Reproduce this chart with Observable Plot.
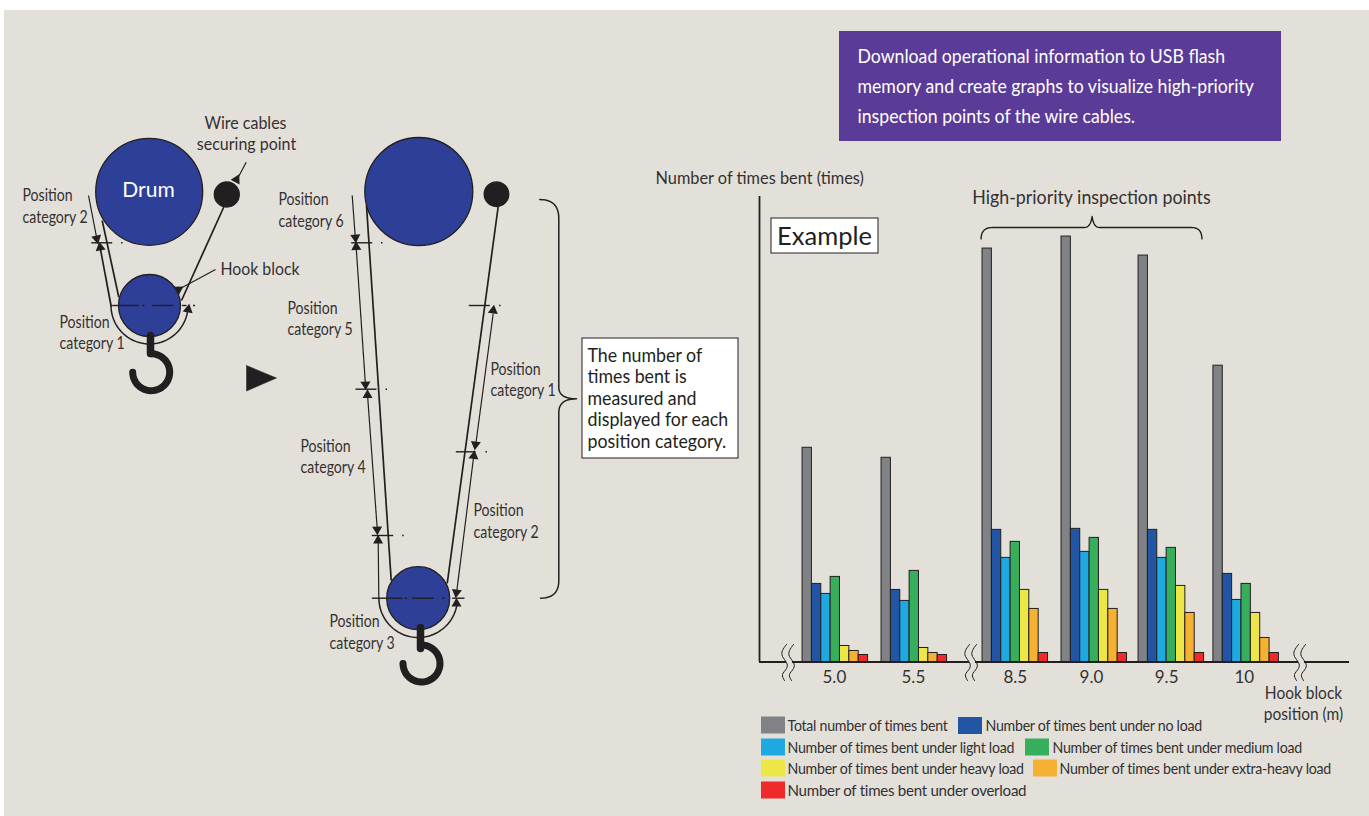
<!DOCTYPE html>
<html><head><meta charset="utf-8">
<script src="https://cdn.jsdelivr.net/npm/d3@7"></script>
<script src="https://cdn.jsdelivr.net/npm/@observablehq/plot@0.6"></script>
<style>
html,body{margin:0;padding:0;background:#fff;overflow:hidden}
#page{position:absolute;left:4px;top:10px;width:1365px;height:806px;background:#e3e0d9}
#stage{position:absolute;left:0;top:0;width:1369px;height:816px}
#stage>svg,#stage>figure{position:absolute;left:0;top:0;margin:0;background:transparent;overflow:visible}
text{font-family:Lato,sans-serif}
.sq886 text,.sq944 text{letter-spacing:-.3px}
</style></head><body><div id="page"></div><div id="stage"></div>
<script>
// ---------- chart data ----------
const hookPositions = ["5.0","5.5","8.5","9.0","9.5","10"];
const total      = [214,204,413,425,406,296];
const noLoad     = [78,72,132,133,132,88];
const lightLoad  = [68,61,104,110,104,62];
const mediumLoad = [85,91,120,124,114,78];
const heavyLoad  = [16,14,72,72,76,49];
const extraHeavy = [11,9,53,53,49,24];
const overload   = [7,7,9,9,9,9];
const seriesNames = ["Total number of times bent","Number of times bent under no load","Number of times bent under light load","Number of times bent under medium load","Number of times bent under heavy load","Number of times bent under extra-heavy load","Number of times bent under overload"];
const seriesValues = [total,noLoad,lightLoad,mediumLoad,heavyLoad,extraHeavy,overload];
const seriesColors = ["#808285","#2255a4","#1fa9e1","#37ae5c","#ece747","#f5b132","#ee2a2b"];
const groupStart = [0,8.44,19.23,27.67,35.9,43.9];   // bar-slot offset of each group
const labelOffset = [3.4,3.4,3.5,3.2,3.0,3.3];       // tick position within each group

const bars = hookPositions.flatMap((p,g)=>seriesNames.map((s,k)=>({
  pos:p, series:s, value:seriesValues[k][g], x1:groupStart[g]+k, x2:groupStart[g]+k+1})));
const centres = groupStart.map((s,i)=>s+labelOffset[i]);
const labelFor = new Map(centres.map((c,i)=>[c,hookPositions[i]]));
const ink="#231f20", txt="#333132";

const chart = Plot.plot({
  width:1369,height:816,marginLeft:759,marginRight:20,marginTop:196,marginBottom:154.5,
  style:{background:"transparent"},
  x:{domain:[-4.6,58.44]},
  y:{domain:[0,465]},
  color:{domain:seriesNames,range:seriesColors},
  marks:[
    Plot.rectY(bars,{x1:"x1",x2:"x2",y1:0,y2:"value",fill:"series",stroke:ink,strokeWidth:1}),
    Plot.ruleY([0],{stroke:ink,strokeWidth:1.8}),
    Plot.ruleX([-4.6],{stroke:ink,strokeWidth:1.8}),
    Plot.axisX({ticks:centres,tickFormat:d=>labelFor.get(d),tickSize:0,tickPadding:9,fontSize:17,color:txt,label:null}),
    Plot.axisY({ticks:[],label:null,tickSize:0})
  ]
});

// ---------- diagram geometry helpers ----------
const arc=(cx,cy,r,a0,a1,n=40)=>d3.range(n+1).map(i=>{const a=(a0+(a1-a0)*i/n)*Math.PI/180;return {x:cx+r*Math.cos(a),y:cy+r*Math.sin(a)}});
const bez=(p0,c,p1,n=12)=>d3.range(n+1).map(i=>{const t=i/n,u=1-t;return {x:u*u*p0[0]+2*u*t*c[0]+t*t*p1[0],y:u*u*p0[1]+2*u*t*c[1]+t*t*p1[1]}});
const poly=(...ps)=>ps.map(p=>({x:p[0],y:p[1]}));
const P=(o)=>({x:"x",y:"y",...o});

// ---------- diagram tables ----------
const circles=[
  {x:148.7,y:191.3,r:53.5,f:"#2e3f97"},{x:226.3,y:194,r:12.5,f:ink},{x:149,y:305,r:31,f:"#2e3f97"},
  {x:418.3,y:191,r:54,f:"#2e3f97"},{x:496,y:193.7,r:12.3,f:ink},{x:417.7,y:597.7,r:31.5,f:"#2e3f97"}];
const ropes=[ // x1,y1,x2,y2
  [101.7,220,118.3,296.7],[100,249,110.7,306],[224,205,181,300],
  [366,205,390.7,580],[497.7,206,446.7,583]];
const dims=[
  [88,195,96.7,240],[245.7,161.7,236,180],[215,269,178,289],
  [351.7,195,355,240],[355.7,247,365,385],[367,394,376.7,528],[377.7,539,378.3,597.7],
  [492.7,313,475,446],[473.3,455,456,593]];
const ticks=[
  [90.7,242.3,111.7,242.3],[120.5,242.3,122,242.3],
  [111.7,305,138.3,305],[141.5,305,144,305],[151.7,305,173,305],[181.5,305,186,305],[192.5,305,194.5,305],
  [350.7,242.3,371.7,242.3],[380.5,242.3,382,242.3],
  [355,388.7,376,388.7],[385,388.7,386.5,388.7],
  [371.3,535,392.7,535],[401.7,535,403.2,535],
  [371.3,597.7,401.7,597.7],[404,597.7,406.5,597.7],[411.7,597.7,433.3,597.7],[441.7,597.7,444,597.7],[451.7,597.7,464,597.7],
  [468.3,305,489.3,305],[498.6,305,500.1,305],
  [455.3,451.3,475,451.3],[485,451.3,486.5,451.3]];
const tris=[ // x,y,rotation
  [96.3,238,168],[99.7,247,-10],[187.7,309,10],[236,179,28],[178,289,-62],
  [355,237,176],[355.7,246.5,-3],[365,384,178],[367,394.5,0],[376.7,529,178],[377.6,540,0],
  [492.7,310,8],[475,444,188],[473.3,455.5,8],[456,592,188],[456,603,0]];
const waves=[[783,644],[790,644],[966,644],[973,644],[1295,644],[1302,644]];
const waveShape=[[3,0],[-1,6],[-1,12],[3,18],[3,24],[-1,30],[1,36]];
const legendRows=[
  {k:0,sx:761,tx:787,y:725},{k:1,sx:958,tx:985,y:725.5},
  {k:2,sx:761,tx:787,y:747},{k:3,sx:1025,tx:1052,y:747},
  {k:4,sx:761,tx:787,y:768},{k:5,sx:1033,tx:1059,y:768},
  {k:6,sx:761,tx:787,y:790}].map(d=>({...d,name:seriesNames[d.k],color:seriesColors[d.k]}));
const posLabels=[
  [22,195,"Position"],[22,217,"category 2"],[59,322,"Position"],[59,343,"category 1"],
  [278,199,"Position"],[278,221,"category 6"],[287,308,"Position"],[287,329,"category 5"],
  [490,369,"Position"],[490,390,"category 1"],[300,446,"Position"],[300,467,"category 4"],
  [473,510,"Position"],[473,532,"category 2"],[329,621,"Position"],[329,643,"category 3"]].map(([x,y,t])=>({x,y,t}));
const topLabels=[[245,123,"Wire cables"],[246,144,"securing point"]].map(([x,y,t])=>({x,y,t}));
const axisNote=[[1303,693,"Hook block"],[1303,714,"position (m)"]].map(([x,y,t])=>({x,y,t}));
const boxLines=["The number of","times bent is","measured and","displayed for each","position category."].map((t,i)=>({x:587,y:355.5+i*21.5,t}));
const purpleLines=["Download operational information to USB flash","memory and create graphs to visualize high-priority","inspection points of the wire cables."].map((t,i)=>({x:857,y:57+i*30,t}));

const text=(rows,o)=>Plot.text(rows,{x:"x",y:"y",text:"t",textAnchor:"start",lineAnchor:"middle",fill:txt,fontSize:17,...o});
const link=(rows,w,c=ink)=>Plot.link(rows,{x1:d=>d[0],y1:d=>d[1],x2:d=>d[2],y2:d=>d[3],stroke:c,strokeWidth:w});
const bigBrace=[...bez([539.3,199],[558.3,199],[558.3,218]),...bez([558.3,386.7],[558.3,398.3],[576,398.3]),...bez([576,398.3],[558.3,398.3],[558.3,412]),...bez([558.3,580],[558.3,597.7],[540,597.7])];
const smallBrace=[...bez([980.6,238.4],[980.6,227],[992,227]),...bez([1084,227],[1090,227],[1091.6,216]),...bez([1091.6,216],[1093,227],[1099,227]),...bez([1191,227],[1201.4,227],[1201.4,238.4])];
const legendText=(rows,cls)=>Plot.text(rows,{x:"tx",y:"y",text:"name",textAnchor:"start",lineAnchor:"middle",fill:txt,fontSize:16,className:cls});

const diagram = Plot.plot({
  width:1369,height:816,margin:0,
  style:{background:"transparent"},
  x:{domain:[0,1369],range:[0,1369],axis:null},
  y:{domain:[0,816],range:[0,816],axis:null},
  marks:[
    Plot.rect([{a:839,b:1281,c:31,d:141}],{x1:"a",x2:"b",y1:"c",y2:"d",fill:"#5a3b97"}),
    Plot.rect([{a:582,b:738,c:338,d:458},{a:771,b:878,c:218,d:253}],{x1:"a",x2:"b",y1:"c",y2:"d",fill:"#fff",stroke:ink,strokeWidth:1}),
    link(ropes,1.7),
    Plot.line(arc(149,305,38.5,180,8),P({stroke:ink,strokeWidth:1.5})),
    Plot.line(arc(417.7,597.7,39.3,180,12),P({stroke:ink,strokeWidth:1.5})),
    ...circles.map(c=>Plot.dot([c],{x:"x",y:"y",r:c.r,fill:c.f,stroke:ink,strokeWidth:1.3})),
    link(dims,1.2),
    link(ticks,1.4),
    Plot.dot(tris,{x:d=>d[0],y:d=>d[1],rotate:d=>d[2],symbol:"triangle2",r:4.8,fill:ink,stroke:"none"}),
    Plot.line(poly([150,335],[150,353]),P({stroke:ink,strokeWidth:7.5})),
    Plot.line(arc(150.7,371.7,18.5,-92,180),P({stroke:ink,strokeWidth:7})),
    Plot.line(poly([420,627],[420,648]),P({stroke:ink,strokeWidth:7.5})),
    Plot.line(arc(421,663,18.5,-92,180),P({stroke:ink,strokeWidth:7})),
    Plot.line(poly([246,365],[246,390.5],[276,377.5],[246,365]),P({fill:ink,stroke:ink,strokeWidth:.5})),
    Plot.line(bigBrace,P({stroke:ink,strokeWidth:1.5})),
    Plot.line(smallBrace,P({stroke:ink,strokeWidth:1.4})),
    Plot.rect([[786,792],[969,975],[1298,1304]],{x1:d=>d[0],x2:d=>d[1],y1:658,y2:665,fill:"#e3e0d9"}),
    ...waves.map(w=>Plot.line(waveShape.map(s=>({x:w[0]+s[0],y:w[1]+s[1]})),P({stroke:ink,strokeWidth:1,curve:"natural"}))),
    text(posLabels,{className:"sq83"}),
    text([{x:220,y:269,t:"Hook block"}],{className:"sq93"}),
    text(topLabels,{textAnchor:"middle",className:"sq94"}),
    text(axisNote,{textAnchor:"middle",className:"sq91"}),
    text([{x:148,y:190,t:"Drum"}],{fontSize:21,fill:"#fff",textAnchor:"middle"}),
    text(boxLines,{fontSize:18.5,fill:ink,className:"sq96"}),
    text(purpleLines,{fontSize:18.5,fill:"#fff",className:"sq955"}),
    text([{x:824,y:236,t:"Example"}],{fontSize:25.5,textAnchor:"middle",fill:ink}),
    text([{x:655,y:178,t:"Number of times bent (times)"}],{className:"sq96"}),
    text([{x:1091,y:197,t:"High-priority inspection points"}],{fontSize:20,textAnchor:"middle",className:"sq89"}),
    Plot.rect(legendRows,{x1:"sx",x2:d=>d.sx+24,y1:d=>d.y-8.5,y2:d=>d.y+8.5,fill:"color"}),
    legendText(legendRows.slice(0,6),"sq886"),
    legendText(legendRows.slice(6),"sq944")
  ]
});
const stage=document.getElementById("stage");
stage.append(chart,diagram);
// match the condensed width of the reference's typeface
for (const [cls,f] of [["sq83",.83],["sq886",.886],["sq89",.89],["sq91",.91],["sq93",.93],["sq94",.94],["sq944",.944],["sq955",.955],["sq96",.96]])
  diagram.querySelectorAll("."+cls+" text, text."+cls).forEach(t=>{
    t.setAttribute("textLength",t.getComputedTextLength()*f);
    t.setAttribute("lengthAdjust","spacingAndGlyphs");
  });
</script></body></html>
